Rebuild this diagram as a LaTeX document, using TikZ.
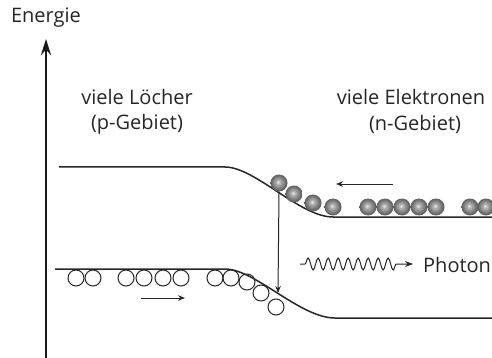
\documentclass[tikz,border=0pt]{standalone}
\usepackage{fontspec}
\setmainfont{Open Sans}
\usetikzlibrary{arrows.meta,decorations.pathmorphing}
\pgfdeclareradialshading{electronshade}{\pgfpoint{-3bp}{3bp}}{color(0bp)=(white!92!black); color(6bp)=(black!30); color(22bp)=(black!60); color(35bp)=(black!78); color(50bp)=(black!78)}
\begin{document}
\begin{tikzpicture}[x=1pt,y=-1pt,
  lbl/.style={font=\fontsize{20}{24}\selectfont, text=black!85, inner sep=0pt},
  hole/.style={circle, draw=black!85, line width=1pt, minimum size=16pt, inner sep=0pt},
  electron/.style={circle, shading=electronshade, minimum size=17pt, inner sep=0pt},
  band/.style={line width=1.5pt, draw=black!85},
  small arrow/.style={line width=1pt, draw=black!85, -{Stealth[length=7pt,width=5.5pt]}}]
\useasboundingbox (0,0) rectangle (492,358);
% energy axis
\coordinate (axbot) at (46,358);
\coordinate (axtop) at (46,39);
\draw[line width=2.5pt, black!90, -{Stealth[length=16pt,width=10pt]}] (axbot) -- (axtop);
\node[lbl] (energie) at (46,18) {Energie};
% region labels
\node[lbl] (pl1) at (137,97) {viele Löcher};
\node[lbl] (pl2) at (137,124) {(p-Gebiet)};
\node[lbl] (nl1) at (411,97) {viele Elektronen};
\node[lbl] (nl2) at (415,124) {(n-Gebiet)};
% bands
\coordinate (cb0) at (59,167);
\coordinate (cb1) at (225,167);
\coordinate (cb2) at (333,217);
\coordinate (cb3) at (492,217);
\draw[band] (cb0) -- (cb1) .. controls (255,167) and (300,217) .. (cb2) -- (cb3);
\coordinate (vb0) at (55,269);
\coordinate (vb1) at (225,269);
\coordinate (vb2) at (335,318);
\coordinate (vb3) at (492,318);
\draw[band] (vb0) -- (vb1) .. controls (255,269) and (300,318) .. (vb2) -- (vb3);
% holes
\foreach \n/\x/\y in {1/76/278, 2/93/278, 3/126/278, 4/144/278, 5/163/278, 6/181/278, 7/215/278, 8/231/278, 9/247/282, 10/261/293, 11/276/307}
  \node[hole] (h\n) at (\x,\y) {};
% electrons
\foreach \n/\x/\y in {1/279/183, 2/294/194, 3/313/203, 4/333/207, 5/368/207, 6/385/207, 7/402/207, 8/419/207, 9/436/207, 10/470/207, 11/486/207}
  \node[electron] (e\n) at (\x,\y) {};
% recombination arrow
\coordinate (rtip) at (278,293);
\draw[small arrow] (e1.south) -- (rtip);
% drift arrows
\coordinate (ea1) at (393,184);
\coordinate (ea2) at (336,184);
\draw[small arrow] (ea1) -- (ea2);
\coordinate (ha1) at (141,298);
\coordinate (ha2) at (185,298);
\draw[small arrow] (ha1) -- (ha2);
% photon
\coordinate (ph1) at (300,264);
\coordinate (ph2) at (413,264);
\draw[line width=1pt, black!85, -{Stealth[length=8pt,width=6pt]}, decorate, decoration={snake, amplitude=6pt, segment length=10pt, pre length=5pt, post length=14pt}] (ph1) -- (ph2);
\node[lbl, anchor=west] (photon) at (423,265) {Photon};
\end{tikzpicture}
\end{document}
